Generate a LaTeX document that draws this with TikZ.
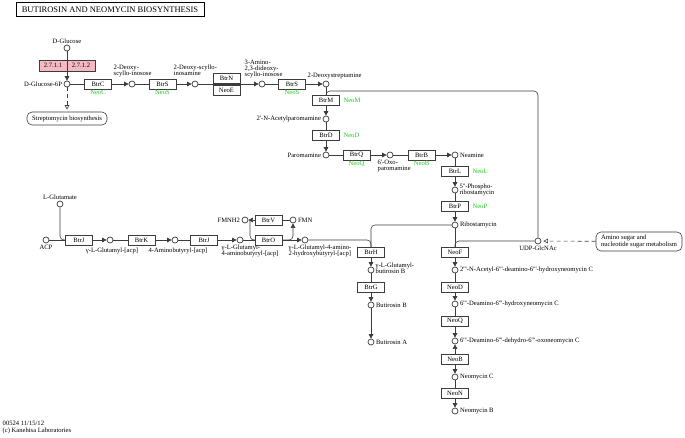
\documentclass[tikz,border=0pt]{standalone}
\usepackage{fontspec}
\newfontfamily\keggfont{Liberation Serif}
\usepackage{tikz}
\usetikzlibrary{arrows.meta,positioning}

\definecolor{enzpink}{RGB}{245,185,195}
\definecolor{genegreen}{RGB}{30,200,30}
\definecolor{pathgray}{RGB}{60,60,60}

\tikzset{
  cpd/.style={circle, draw=pathgray, fill=white, line width=0.7pt, minimum size=6pt, inner sep=0pt},
  enz/.style={rectangle, draw=pathgray, fill=white, line width=0.6pt, minimum width=27pt, minimum height=10pt, inner sep=0pt},
  ecbox/.style={enz, fill=enzpink, minimum width=28pt, minimum height=11pt},
  gene/.style={text=genegreen, inner sep=0.5pt},
  lbl/.style={inner sep=0.5pt, align=left},
  mapbox/.style={rectangle, rounded corners=5pt, draw=pathgray, fill=white, line width=0.6pt, inner sep=1pt, align=left},
  conn/.style={draw=pathgray, line width=0.6pt},
  rxn/.style={conn, -{Triangle[length=4.5pt,width=4.5pt]}},
  rrxn/.style={conn, {Triangle[length=4.5pt,width=4.5pt]}-{Triangle[length=4.5pt,width=4.5pt]}},
  maplink/.style={conn, dash pattern=on 4pt off 3pt, -{Triangle[open,length=4.5pt,width=4.5pt]}, shorten >=2pt},
}

\begin{document}
\begin{tikzpicture}[x=1pt, y=-1pt, every node/.style={font=\keggfont\fontsize{6.6}{6.2}\selectfont}]
\useasboundingbox (0,0) rectangle (685,437);
% title
\node[draw, line width=1pt, minimum width=188pt, minimum height=14pt, inner sep=0pt,
      font=\keggfont\fontsize{8.5}{9}\selectfont] (title) at (110,9.5) {BUTIROSIN AND NEOMYCIN BIOSYNTHESIS};
% compounds: 2-deoxystreptamine route
\node[cpd] (glc) at (67,48) {};
\node[cpd] (g6p) at (67,84) {};
\node[cpd] (dsi) at (132,84) {};
\node[cpd] (dsa) at (195,84) {};
\node[cpd] (adi) at (262,84) {};
\node[cpd] (dos) at (326,84) {};
\node[cpd] (nap) at (326,119) {};
\node[cpd] (par) at (326,155) {};
\node[cpd] (oxp) at (390,155) {};
\node[cpd] (nea) at (455,155) {};
\node[cpd] (prb) at (455,190) {};
\node[cpd] (rib) at (455,225) {};
\node[cpd] (udp) at (538,241) {};
% compounds: neomycin branch
\node[cpd] (nac) at (455,270) {};
\node[cpd] (dhn) at (455,304) {};
\node[cpd] (don) at (455,341) {};
\node[cpd] (neoc) at (455,377) {};
\node[cpd] (neob) at (455,411) {};
% compounds: side chain on acp, butirosin
\node[cpd] (lglu) at (60,204) {};
\node[cpd] (acp) at (46,240) {};
\node[cpd] (gga) at (110,240) {};
\node[cpd] (aba) at (175,240) {};
\node[cpd] (gab) at (240,240) {};
\node[cpd] (fmnh) at (245,220) {};
\node[cpd] (fmn) at (293,220) {};
\node[cpd] (gah) at (305,240) {};
\node[cpd] (ggb) at (371,270) {};
\node[cpd] (butb) at (371,305) {};
\node[cpd] (buta) at (371,342) {};
% maps
\node[mapbox, minimum width=80pt, minimum height=13pt] (strep) at (67,118.5) {Streptomycin biosynthesis};
\node[mapbox, minimum width=86pt, minimum height=19pt] (amino) at (639,241.5) {Amino sugar and\\nucleotide sugar metabolism};
% compound names
\node[lbl, above=0pt of glc] (glcl) {D-Glucose};
\node[lbl, left=1pt of g6p] (g6pl) {D-Glucose-6P};
\node[lbl, anchor=north west] (dsil) at (113,64.5) {2-Deoxy-\\scyllo-inosose};
\node[lbl, anchor=north west] (dsal) at (173,64.5) {2-Deoxy-scyllo-\\inosamine};
\node[lbl, anchor=north west] (adil) at (244,59.5) {3-Amino-\\2,3-dideoxy-\\scyllo-inosose};
\node[lbl, anchor=north west] (dosl) at (307,72.5) {2-Deoxystreptamine};
\node[lbl, left=1pt of nap] (napl) {2'-N-Acetylparomamine};
\node[lbl, left=1pt of par] (parl) {Paromamine};
\node[lbl, anchor=north west] (oxpl) at (377,159.5) {6'-Oxo-\\paromamine};
\node[lbl, right=1pt of nea] (neal) {Neamine};
\node[lbl, anchor=north west] (prbl) at (459,183.5) {5''-Phospho-\\ribostamycin};
\node[lbl, right=1pt of rib] (ribl) {Ribostamycin};
\node[lbl, below=1pt of udp] (udpl) {UDP-GlcNAc};
\node[lbl, right=1pt of nac] (nacl) {2'''-N-Acetyl-6'''-deamino-6'''-hydroxyneomycin C};
\node[lbl, right=1pt of dhn] (dhnl) {6'''-Deamino-6'''-hydroxyneomycin C};
\node[lbl, right=1pt of don] (donl) {6'''-Deamino-6'''-dehydro-6'''-oxoneomycin C};
\node[lbl, right=1pt of neoc] (neocl) {Neomycin C};
\node[lbl, right=1pt of neob] (neobl) {Neomycin B};
\node[lbl, above=0pt of lglu] (lglul) {L-Glutamate};
\node[lbl, below=1pt of acp] (acpl) {ACP};
\node[lbl, anchor=north] (ggal) at (112,247.5) {γ-L-Glutamyl-[acp]};
\node[lbl, anchor=north] (abal) at (178,247.5) {4-Aminobutyryl-[acp]};
\node[lbl, anchor=north west] (gabl) at (221,244.5) {γ-L-Glutamyl-\\4-aminobutyryl-[acp]};
\node[lbl, left=1pt of fmnh] (fmnhl) {FMNH2};
\node[lbl, right=1pt of fmn] (fmnl) {FMN};
\node[lbl, anchor=north west] (gahl) at (288,244.5) {γ-L-Glutamyl-4-amino-\\2-hydroxybutyryl-[acp]};
\node[lbl, anchor=north west] (ggbl) at (375,262.5) {γ-L-Glutamyl-\\butirosin B};
\node[lbl, right=1pt of butb] (butbl) {Butirosin B};
\node[lbl, right=1pt of buta] (butal) {Butirosin A};
% junctions
\coordinate (dosj) at (326,97);
\coordinate (neofj) at (455,247);
\coordinate (btrjj) at (66,240);
\coordinate (fmnhj) at (250,220);
\coordinate (btroi) at (257,240);
\coordinate (btroo) at (281,240);
\coordinate (btrhj) at (371,247);
% reactions
\draw[rxn] (glc) -- (g6p);
\draw[rxn] (g6p) -- (dsi);
\draw[rxn] (dsi) -- (dsa);
\draw[rxn] (dsa) -- (adi);
\draw[rxn] (adi) -- (dos);
\draw[rxn] (dos) -- (nap);
\draw[rxn] (nap) -- (par);
\draw[rxn] (par) -- (oxp);
\draw[rxn] (oxp) -- (nea);
\draw[rxn] (nea) -- (prb);
\draw[rxn] (prb) -- (rib);
\draw[rxn] (rib) -- (nac);
\draw[rxn] (nac) -- (dhn);
\draw[rxn] (dhn) -- (don);
\draw[rrxn] (don) -- (neoc);
\draw[rxn] (neoc) -- (neob);
\draw[conn, rounded corners=4pt] (udp.north) -- (538,91) -- (326,91) -- (dosj);
\draw[conn, rounded corners=4pt] (udp.west) -| (neofj);
\draw[conn, rounded corners=4pt] (lglu.south) |- (btrjj);
\draw[rxn] (acp) -- (gga);
\draw[rxn] (gga) -- (aba);
\draw[rxn] (aba) -- (gab);
\draw[rxn] (gab) -- (gah);
\draw[rxn] (fmn) -- (fmnh);
\draw[conn, rounded corners=4pt] (fmnhj) |- (btroi);
\draw[rxn, rounded corners=4pt] (btroo) -| (fmn.south);
\draw[conn, rounded corners=4pt] (gah.east) -| (btrhj);
\draw[conn, rounded corners=4pt] (rib.west) -| (btrhj);
\draw[rxn] (btrhj) -- (ggb);
\draw[rxn] (ggb) -- (butb);
\draw[rxn] (butb) -- (buta);
\draw[maplink] (g6p) -- (strep);
\draw[maplink] (amino) -- (udp);
% enzymes
\node[ecbox] (ec1) at (53,65.5) {2.7.1.1};
\node[ecbox] (ec2) at (81,65.5) {2.7.1.2};
\node[enz] (btrC) at (98,84) {BtrC};
\node[enz] (btrS1) at (162.5,84) {BtrS};
\node[enz] (btrN) at (226.5,78.5) {BtrN};
\node[enz] (neoE) at (226.5,90) {NeoE};
\node[enz] (btrS2) at (292,84) {BtrS};
\node[enz] (btrM) at (326,100.5) {BtrM};
\node[enz] (btrD) at (326,135.5) {BtrD};
\node[enz] (btrQ) at (356.5,155) {BtrQ};
\node[enz] (btrB) at (421.5,155) {BtrB};
\node[enz] (btrL) at (455,171) {BtrL};
\node[enz] (btrP) at (455,206) {BtrP};
\node[enz] (btrJ1) at (79,240) {BtrJ};
\node[enz] (btrK) at (141.5,240) {BtrK};
\node[enz] (btrJ2) at (204,240) {BtrJ};
\node[enz] (btrV) at (268.5,220) {BtrV};
\node[enz] (btrO) at (268.5,240) {BtrO};
\node[enz] (btrH) at (371,252) {BtrH};
\node[enz] (btrG) at (371,287) {BtrG};
\foreach \n/\y/\t in {neoF/252/NeoF, neoD/287/NeoD, neoQ/321/NeoQ, neoB/359/NeoB, neoN/393/NeoN}
  \node[enz] (\n) at (455,\y) {\t};
% genes of the neomycin cluster
\node[gene, below=0.5pt of btrC] (gC) {NeoC};
\node[gene, below=0.5pt of btrS1] (gS1) {NeoS};
\node[gene, below=0.5pt of btrS2] (gS2) {NeoS};
\node[gene, right=3pt of btrM] (gM) {NeoM};
\node[gene, right=3pt of btrD] (gD) {NeoD};
\node[gene, below=0.5pt of btrQ] (gQ) {NeoQ};
\node[gene, below=0.5pt of btrB] (gB) {NeoB};
\node[gene, right=3pt of btrL] (gL) {NeoL};
\node[gene, right=3pt of btrP] (gP) {NeoP};
% footer
\node[lbl, anchor=north west, font=\keggfont\fontsize{6.6}{7}\selectfont] (foot) at (2,420) {00524 11/15/12\\(c) Kanehisa Laboratories};
\end{tikzpicture}
\end{document}
